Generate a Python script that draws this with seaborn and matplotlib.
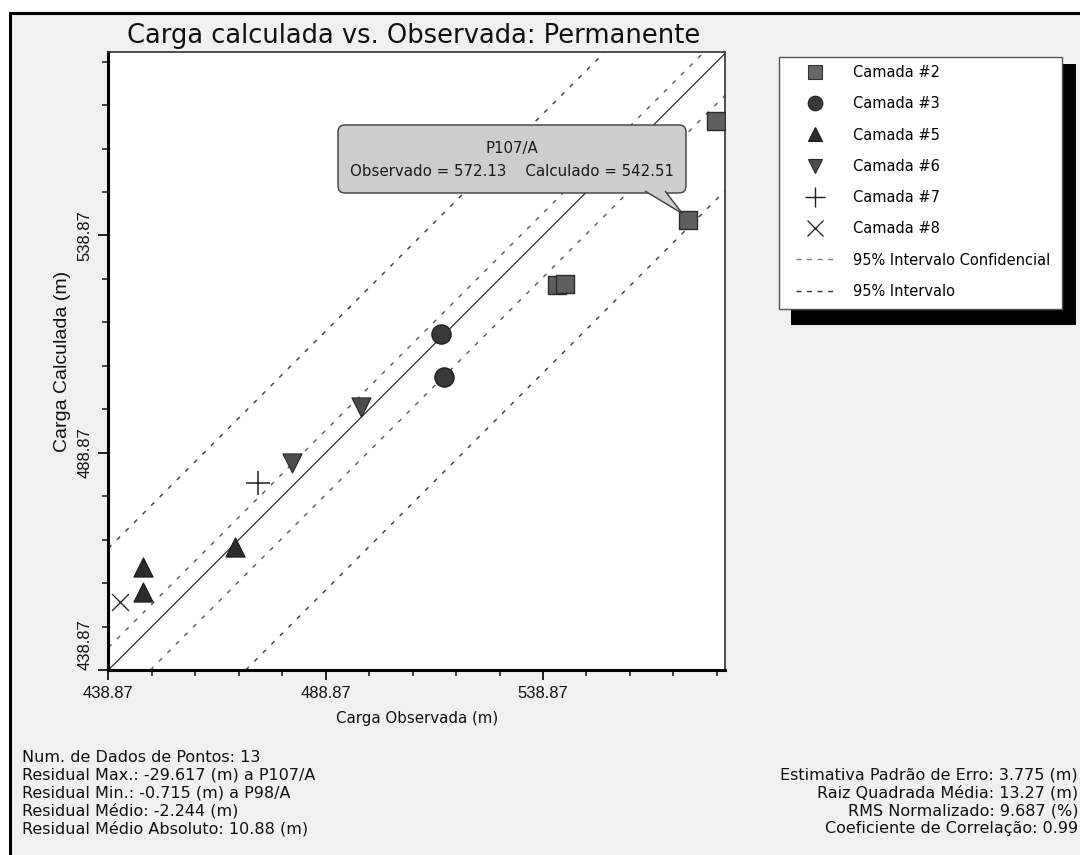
import matplotlib
matplotlib.use("Agg")
import matplotlib.pyplot as plt
import matplotlib.patches as mpatches
from matplotlib.lines import Line2D
from matplotlib.transforms import IdentityTransform
import pandas as pd
import seaborn as sns

# ---------------------------------------------------------------------------
# Observed vs. calculated heads (m), one pair of lists per layer
# ---------------------------------------------------------------------------
camadas = ["Camada #2", "Camada #3", "Camada #5", "Camada #6", "Camada #7", "Camada #8"]

camada2_obs = [578.61, 572.13, 542.02, 543.93]
camada2_calc = [565.26, 542.51, 527.46, 527.62]
camada3_obs = [515.40, 516.16]
camada3_calc = [516.20, 506.36]
camada5_obs = [446.90, 446.90, 468.00]
camada5_calc = [462.64, 456.89, 467.28]
camada6_obs = [496.99, 481.05]
camada6_calc = [499.32, 486.43]
camada7_obs = [473.36]
camada7_calc = [481.83]
camada8_obs = [441.54]
camada8_calc = [454.59]

# highlighted well (index into the Camada #2 lists)
poco_nome = "P107/A"
poco_idx = 1

# reference lines parallel to 1:1, given as (calculated - observed)
ic_offsets = [5.16, -9.64]     # 95% Intervalo Confidencial
int_offsets = [28.0, -31.6]    # 95% Intervalo

tick_major = [438.87, 488.87, 538.87]
tick_labels = ["438.87", "488.87", "538.87"]
tick_minor = [448.87, 458.87, 468.87, 478.87, 498.87, 508.87, 518.87,
              528.87, 548.87, 558.87, 568.87, 578.87]

titulo = "Carga calculada vs. Observada: Permanente"
stats_esq = [
    "Num. de Dados de Pontos: 13",
    "Residual Max.: -29.617 (m) a P107/A",
    "Residual Min.: -0.715 (m) a P98/A",
    "Residual Médio: -2.244 (m)",
    "Residual Médio Absoluto: 10.88 (m)",
]
stats_dir = [
    "Estimativa Padrão de Erro: 3.775 (m)",
    "Raiz Quadrada Média: 13.27 (m)",
    "RMS Normalizado: 9.687 (%)",
    "Coeficiente de Correlação: 0.99",
]

# ---------------------------------------------------------------------------
obs_lists = [camada2_obs, camada3_obs, camada5_obs, camada6_obs, camada7_obs, camada8_obs]
calc_lists = [camada2_calc, camada3_calc, camada5_calc, camada6_calc, camada7_calc, camada8_calc]
df = pd.concat(
    [pd.DataFrame({"Camada": n, "Observada": o, "Calculada": c})
     for n, o, c in zip(camadas, obs_lists, calc_lists)],
    ignore_index=True,
)

plt.rcParams["font.family"] = "DejaVu Sans"

W, H = 1080, 855
fig = plt.figure(figsize=(W / 100, H / 100), dpi=100, facecolor="white")
PIX = IdentityTransform()   # display pixels, origin bottom-left


def fx(px):
    return px / W


def fy(py):
    return 1 - py / H


# grey panel with black frame
fig.add_artist(mpatches.Rectangle((fx(10), -0.1), 1.2, fy(13) + 0.1,
                                  transform=fig.transFigure, fc="#f0f0f0",
                                  ec="black", lw=2.2, zorder=-5))

ax = fig.add_axes([fx(108.4), fy(670), (725 - 108.4) / W, (670 - 52) / H])
ax.set_facecolor("white")

estilos = {
    "Camada #2": dict(marker="s", s=175, color="#5e5e5e", edgecolor="#2b2b2b", linewidth=1.0),
    "Camada #3": dict(marker="o", s=190, color="#393939", edgecolor="#1e1e1e", linewidth=1.0),
    "Camada #5": dict(marker="^", s=190, color="#2c2c2c", edgecolor="#1a1a1a", linewidth=0.8),
    "Camada #6": dict(marker="v", s=190, color="#4c4c4c", edgecolor="#262626", linewidth=0.8),
    "Camada #7": dict(marker="+", s=320, color="#1e1e1e", linewidth=1.1),
    "Camada #8": dict(marker="x", s=150, color="#1e1e1e", linewidth=0.9),
}

lo = tick_major[0]
ax.axline((lo, lo), slope=1, color="#2e2e2e", lw=0.9, zorder=2)
for off in ic_offsets:
    ax.axline((lo, lo + off), slope=1, color="#5a5a5a", lw=1.0,
              ls=(0, (3.2, 5.5)), zorder=2)
for off in int_offsets:
    ax.axline((lo, lo + off), slope=1, color="#3a3a3a", lw=1.0,
              ls=(0, (3.2, 5.5)), zorder=2)

for nome in camadas:
    sns.scatterplot(data=df[df["Camada"] == nome], x="Observada", y="Calculada",
                    ax=ax, legend=False, zorder=4, **estilos[nome])

ax.set_xlim(lo, 580.75)
ax.set_ylim(lo, 581.1)

ax.set_xticks(tick_major)
ax.set_xticklabels(tick_labels)
ax.set_yticks(tick_major)
ax.set_yticklabels(tick_labels, rotation=90, va="center")
ax.set_xticks(tick_minor, minor=True)
ax.set_yticks(tick_minor, minor=True)
ax.tick_params(which="major", length=7.5, width=1.3, direction="out", pad=4,
               labelsize=12, colors="#111111")
ax.tick_params(which="minor", length=4, width=1.1, direction="out", colors="#111111")
for lab in ax.get_xticklabels() + ax.get_yticklabels():
    lab.set_fontfamily("Liberation Sans")
ax.get_yticklabels()[0].set_va("bottom")

for s in ["left", "bottom"]:
    ax.spines[s].set_linewidth(2.2)
    ax.spines[s].set_color("black")
for s in ["top", "right"]:
    ax.spines[s].set_linewidth(1.2)
    ax.spines[s].set_color("#333333")

ax.set_xlabel("Carga Observada (m)", fontsize=10.8, color="#111111")
ax.xaxis.set_label_coords(0.5, (670 - 711) / 618)
ax.set_ylabel("Carga Calculada (m)", fontsize=14, color="#111111",
              fontfamily="Liberation Sans")
ax.yaxis.set_label_coords((71 - 108.4) / 616.6, 0.5)

# ---------------------------------------------------------------------------
# speech-bubble callout for the highlighted well
# ---------------------------------------------------------------------------
px, py = camada2_obs[poco_idx], camada2_calc[poco_idx]
tip_x, tip_y = ax.transData.transform((px, py))
tip_x, tip_y = tip_x - 5, tip_y + 6

bx0, bx1, by_top, by_bot = 338, 686, 125, 193
fig.add_artist(mpatches.FancyBboxPatch(
    (bx0, H - by_bot), bx1 - bx0, by_bot - by_top,
    boxstyle="round,pad=0,rounding_size=7", transform=PIX,
    fc="#cdcdcd", ec="#3c3c3c", lw=1.0, zorder=3))
fig.add_artist(mpatches.Polygon(
    [(645, H - by_bot + 2), (tip_x, tip_y), (665, H - by_bot + 2)],
    closed=False, transform=PIX, fc="#cdcdcd", ec="#3c3c3c", lw=1.0, zorder=3.1))
fig.text(fx((bx0 + bx1) / 2), fy(148), poco_nome, ha="center", va="center",
         fontsize=10.8, color="#1a1a1a", zorder=3.2)
fig.text(fx((bx0 + bx1) / 2), fy(171),
         f"Observado = {px:.2f}    Calculado = {py:.2f}",
         ha="center", va="center", fontsize=10.8, color="#1a1a1a", zorder=3.2)

# title
fig.text(fx(414), fy(43), titulo, ha="center", va="baseline", fontsize=18.5,
         color="#111111")

# ---------------------------------------------------------------------------
# legend with a hard drop shadow
# ---------------------------------------------------------------------------
fig.add_artist(mpatches.Rectangle((fx(791), fy(325)), (1075.5 - 791) / W, (325 - 64) / H,
                                  transform=fig.transFigure, fc="black", ec="none",
                                  zorder=1))
fig.add_artist(mpatches.Rectangle((fx(779), fy(309)), (1062 - 779) / W, (309 - 57) / H,
                                  transform=fig.transFigure, fc="white", ec="#555555",
                                  lw=1.0, zorder=2))
handles = [
    Line2D([], [], ls="none", marker="s", ms=10, mfc="#666666", mec="#333333", mew=0.8),
    Line2D([], [], ls="none", marker="o", ms=10.5, mfc="#3a3a3a", mec="#222222", mew=0.8),
    Line2D([], [], ls="none", marker="^", ms=10.5, mfc="#2c2c2c", mec="#1a1a1a", mew=0.8),
    Line2D([], [], ls="none", marker="v", ms=10.5, mfc="#4c4c4c", mec="#262626", mew=0.8),
    Line2D([], [], ls="none", marker="+", ms=14.5, mec="#1e1e1e", mew=1.0),
    Line2D([], [], ls="none", marker="x", ms=11, mec="#1e1e1e", mew=0.9),
    Line2D([], [], color="#777777", lw=1.0, ls=(0, (3.6, 4.0))),
    Line2D([], [], color="#333333", lw=1.0, ls=(0, (3.6, 4.0))),
]
labels = camadas + ["95% Intervalo Confidencial", "95% Intervalo"]
leg = fig.legend(handles, labels, loc="upper left", bbox_to_anchor=(fx(796), fy(65)),
                 frameon=False, fontsize=10.5, handlelength=2.6, handletextpad=1.3,
                 labelspacing=1.115, borderpad=0, borderaxespad=0)
leg.set_zorder(3)

# ---------------------------------------------------------------------------
# summary statistics
# ---------------------------------------------------------------------------
for i, linha in enumerate(stats_esq):
    fig.text(fx(22), fy(757 + 17.9 * i), linha, ha="left", va="center",
             fontsize=11.5, color="#111111")
for i, linha in enumerate(stats_dir):
    fig.text(fx(1078), fy(775 + 17.9 * i), linha, ha="right", va="center",
             fontsize=11.5, color="#111111")

fig.savefig("out.png", dpi=100, facecolor=fig.get_facecolor())
